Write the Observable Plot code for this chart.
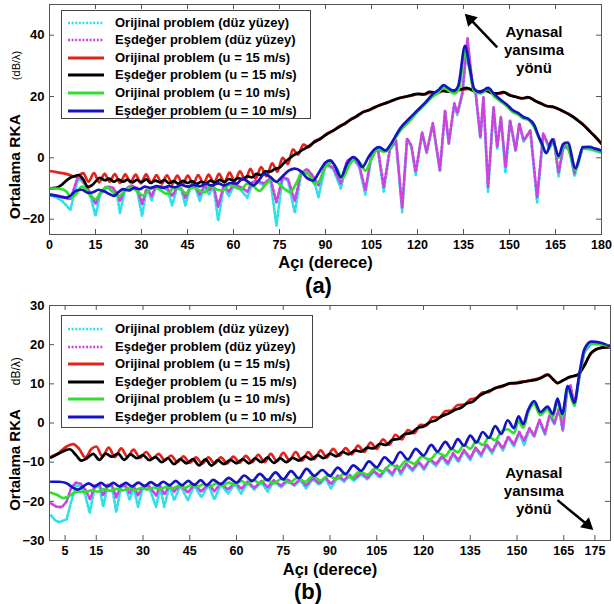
<!DOCTYPE html>
<html><head><meta charset="utf-8">
<script src="https://cdn.jsdelivr.net/npm/d3@7"></script>
<script src="https://cdn.jsdelivr.net/npm/@observablehq/plot@0.6"></script>
<style>
body{margin:0;background:#fff;}
#wrap{position:relative;width:614px;height:604px;overflow:hidden;font-family:"Liberation Sans",Arial,sans-serif;font-weight:bold;color:#000;background:#fff;}
#wrap svg.plot{position:absolute;left:0;}
.abs{position:absolute;white-space:nowrap;line-height:1;}
.leg{position:absolute;border:1px solid #444;background:#fff;}
.row{position:absolute;left:0;height:16px;white-space:nowrap;font-size:13px;}
.row svg{position:absolute;left:5px;top:3px;}
.row span{position:absolute;left:53px;top:0;line-height:16px;}
</style></head><body><div id="wrap"></div>
<script>
// ---------- Series names ----------
const seriesNames = [
  "Orijinal problem (düz yüzey)",
  "Eşdeğer problem (düz yüzey)",
  "Orijinal problem (u = 15 m/s)",
  "Eşdeğer problem (u = 15 m/s)",
  "Orijinal problem (u = 10 m/s)",
  "Eşdeğer problem (u = 10 m/s)"
];
// ---------- Panel (a) data: [angle (deg), RKA (dB/λ)] ----------
const aCyan = [[0,-12.2],[2,-12.8],[4,-14],[5.5,-15.5],[6.8,-17],[8,-12],[9.3,-7],[10.5,-7.5],[12,-9.5],[13.5,-13],[15,-19],[16.5,-12],[18.5,-9.8],[20.5,-10],[22,-12],[23,-18],[24.5,-11],[26.5,-9.4],[28.5,-10.5],[30.2,-19],[31.5,-11],[32.5,-11.5],[33.3,-14],[34.5,-10],[36.5,-9.6],[38.5,-10.5],[40,-15.5],[41.5,-10],[43,-10.5],[44.3,-15.5],[45.8,-10],[47.5,-9.6],[49,-14],[50.5,-9.4],[52,-12],[53.5,-9.4],[55,-20.5],[56.8,-9.4],[58.5,-12.5],[60.2,-8.8],[62,-10],[64.5,-13],[66.2,-8.2],[68,-8],[70,-9],[72,-7],[74,-22],[76,-6.6],[77.8,-7.5],[80,-18],[82,-5.4],[84,-4],[86,-6.5],[87.7,-12.8],[90,-2.2],[92.5,-3.6],[95,-10],[97,-1.4],[99,-0.2],[101,-3],[103,-12],[105,0.6],[107,3.1],[109,-11],[111,2.6],[113,5.3],[115,-17.7],[116.6,6],[118,3.6],[119.4,-5.5],[121.5,7.9],[123,1.5],[125,11],[127.3,-4.5],[129,15],[130.2,4.4],[132,17.4],[133,14],[134.6,20.6],[136.3,38],[138,22.6],[139,20.6],[140.5,6.3],[141.5,19.4],[143,-11],[144.8,16],[146,3],[147.2,13],[148.7,-5],[150.2,12],[152,2],[153.2,11],[154.6,5.3],[156.8,8.6],[159,-14.5],[161,7.6],[163,3],[164.5,5.6],[166,-6],[167.6,3.6],[169.5,2.6],[171.2,-6],[173.8,3],[176,2.8],[178,2.2],[180,1.6]];
const aMagenta = [[0,-12],[2,-12.2],[4,-12.6],[5.5,-13.2],[6.8,-13.5],[8,-10],[9.3,-6],[10.5,-7],[12,-9],[13.5,-12],[15,-15],[16.5,-11.5],[18.5,-9.4],[20.5,-9.6],[22,-11.5],[23,-14],[24.5,-10.5],[26.5,-9],[28.5,-9.8],[30.2,-15],[31.5,-10.5],[32.5,-11],[33.3,-12.5],[34.5,-9.5],[36.5,-9.3],[38.5,-10],[40,-12.5],[41.5,-9.6],[43,-10],[44.3,-13],[45.8,-9.6],[47.5,-9.2],[49,-12],[50.5,-9],[52,-10.5],[53.5,-9],[55,-16],[56.8,-9],[58.5,-11],[60.2,-8.4],[62,-9.4],[64.5,-11],[66.2,-7.8],[68,-7.5],[70,-8.4],[72,-6.5],[74,-14.5],[76,-6.2],[77.8,-7],[80,-14],[82,-5],[84,-3.6],[86,-6],[87.7,-9],[90,-1.8],[92.5,-3.2],[95,-8.4],[97,-1],[99,0.2],[101,-2.5],[103,-10.5],[105,1],[107,3.5],[109,-9.5],[111,3],[113,5.7],[115,-16.4],[116.6,6.4],[118,4],[119.4,-4.7],[121.5,8.3],[123,1.9],[125,11.3],[127.3,-4],[129,15.5],[130.2,4.8],[132,17.8],[133,14.5],[134.6,21],[136.3,39],[138,23],[139,21],[140.5,6.7],[141.5,19.8],[143,-9.5],[144.8,16.5],[146,3.5],[147.2,13.3],[148.7,-3],[150.2,12.3],[152,2.5],[153.2,11.3],[154.6,5.7],[156.8,9],[159,-12.9],[161,8],[163,3.5],[164.5,6],[166,-5],[167.6,4],[169.5,3],[171.2,-5],[173.8,3.5],[176,3.2],[178,2.6],[180,2]];
const aRed = [[0,-4.3],[3,-4.8],[6,-5.4],[8.5,-6.2],[11,-5],[12.7,-7.8],[14.5,-5],[16.2,-8],[18,-5.2],[19.6,-7.8],[21.3,-5.3],[23,-8.2],[24.7,-5.4],[26.4,-8],[28.1,-5.5],[29.8,-8.3],[31.5,-5.4],[33.2,-8.2],[34.9,-5.6],[36.6,-8.4],[38.3,-5.7],[40,-8.5],[41.7,-5.8],[43.4,-8.6],[45.1,-5.8],[46.8,-8.5],[48.5,-5.6],[50.2,-8.4],[51.9,-5.5],[53.6,-8.2],[55.3,-5.2],[57,-8],[58.7,-4.8],[60.4,-7.6],[62.1,-4.4],[63.8,-7.3],[65.5,-3.6],[67.2,-6.8],[69,-3],[70.8,-6],[72.6,-1.8],[74.3,-4.5],[76,0],[77.7,-2],[79.4,2.8],[81,1],[82.8,4.3],[84.5,3.5],[86.5,5.5],[88.5,6.3],[90.5,8],[92.5,8.8],[94.5,10.3],[96.5,11.2],[98.5,12.6],[100.5,13.6],[102.5,15.1],[104.5,15.6],[106.5,16.6],[108.5,17.4],[110.5,18.1],[112.5,18.9],[114.5,19.6],[116.5,20],[118.5,20.4],[120.5,20.8],[122.5,20.7],[124.5,21.4],[126.5,21.2],[128.5,21.8],[130.5,21.6],[132.5,21.9],[134.5,22.2],[136.5,22.5],[138.5,21.9],[140.5,21.4],[142.5,21.8],[144.5,21.1],[146.5,20.9],[148.5,21.3],[150.5,20.3],[152.5,19.8],[154.5,19.4],[156.5,19.6],[158.5,18.5],[160.5,17.7],[162.5,16.8],[164.5,16.5],[166.5,15.7],[168.5,14.7],[170.5,13.6],[172.5,12.1],[174.5,10.5],[176.5,8.4],[178.5,6.4],[180,4.5]];
const aBlack = [[0,-10],[2,-9.8],[4,-8.8],[6,-7],[7.5,-6.2],[9.5,-5.6],[11,-7],[12.5,-9.5],[14,-8.8],[16.5,-6.5],[18,-7.3],[19.5,-6.8],[21,-7.8],[22.5,-7],[24,-7.8],[25.5,-7.1],[27,-8],[28.5,-7.2],[30,-7.9],[31.5,-7],[33,-8.2],[34.5,-7.4],[36,-8],[37.5,-7.2],[39,-8.3],[40.5,-7.6],[42,-8.4],[43.5,-7.5],[45,-8.2],[46.5,-7.6],[48,-8.5],[49.5,-7.8],[51,-8.3],[52.5,-7.4],[54,-8.1],[55.5,-7.2],[57,-7.9],[58.5,-6.9],[60,-7.4],[61.5,-6.6],[63,-7],[64.5,-6],[66,-6.4],[67.5,-5.2],[69,-5.6],[70.5,-4.4],[72,-4.5],[73.5,-3.6],[75,-3.2],[76.5,-1.6],[78,-0.4],[79.5,0.8],[81,1.6],[82.5,2.6],[84,3.4],[86,4.9],[88,6],[90,7.4],[92,8.6],[94,9.8],[96,11],[98,12.4],[100,13.5],[102,14.8],[104,15.5],[106,16.5],[108,17.3],[110,18],[112,18.8],[114,19.5],[116,19.9],[118,20.4],[120,20.9],[122,20.7],[124,21.5],[126,21.2],[128,21.9],[130,21.6],[132,22],[134,22.3],[136,22.8],[138,22],[140,21.5],[142,22],[144,21.2],[146,21],[148,21.4],[150,20.4],[152,19.9],[154,19.4],[156,19.8],[158,18.8],[160,17.8],[162,16.9],[164,16.7],[166,15.9],[168,14.9],[170,13.8],[172,12.4],[174,10.8],[176,8.8],[178,6.8],[180,4.6]];
const aGreen = [[0,-10],[2,-10],[4,-10.2],[5.5,-11],[7,-12.8],[8.5,-12],[10.5,-9.4],[12,-10.5],[13.5,-12.5],[15,-13.5],[16.5,-11.5],[18.5,-9.6],[20.5,-11],[22.5,-12.6],[24.5,-10.8],[26.5,-9.6],[28.5,-10.8],[30.5,-12.3],[32.5,-10.4],[34.5,-9.5],[36.5,-10.8],[38.5,-11.8],[40.5,-9.8],[42.5,-10],[44.5,-11.6],[46.5,-9.6],[48.5,-10.4],[50.5,-11.3],[52.5,-9.2],[54.5,-10.3],[56.5,-10.6],[58.5,-8.8],[60.5,-9.6],[62.5,-10.2],[64.5,-8.4],[66.5,-9.4],[68.5,-10.8],[70.5,-8.6],[72.5,-7.2],[74.5,-8.2],[76.5,-10],[78.5,-11.2],[80.5,-8.2],[82.5,-4.6],[84.5,-5.4],[86.5,-8.4],[88,-7.6],[90,-3],[92,-1.6],[94,-4],[95.5,-6.8],[97.5,-2.8],[99.5,-0.6],[101.5,-1.9],[103,-4.2],[105,-0.4],[107,2.8],[109,2],[110.5,2.6],[112.5,6],[114.5,9],[117,11.5],[120,15],[122,17],[125,20],[127,21.5],[128.5,23],[130,22],[132,21],[133.5,22.5],[135.5,35],[137,28.5],[138.5,21.5],[140.5,21],[143,22.5],[145,20],[147,18.5],[149,17],[151,15],[153,14],[154.5,12.8],[156,12.5],[158,10],[160,5.5],[162,1.5],[164,6],[166,0],[168,5],[170,0.5],[171.5,-4],[174,3],[176,3],[178,2.5],[180,2]];
const aBlue = [[0,-12],[2,-12.3],[4,-12.8],[5.5,-13],[7,-12.2],[8.5,-10.8],[10.5,-10.4],[12.5,-11.4],[14,-11.3],[16,-10.4],[18,-11],[19.5,-11.8],[21,-12.4],[22.5,-11.2],[24,-10.2],[26,-10.6],[27.5,-9.8],[29.5,-10.2],[31,-9.4],[33,-9.8],[35,-9.2],[37,-9.8],[39,-9.2],[41,-9.6],[43,-8.8],[45,-9.4],[47,-8.8],[49,-9.3],[51,-8.5],[53,-9],[55,-8.3],[57,-9],[59,-8.2],[61,-8.4],[63,-6.8],[65,-8],[66.5,-9],[68.5,-7],[70,-5.2],[72,-6.2],[74,-7.8],[76,-6],[78,-4.2],[80,-3.5],[82,-4.4],[84,-6.6],[86,-7.4],[88,-4.5],[90,-1.5],[91.6,-0.8],[93,-2.5],[95,-6.3],[97,-2],[99,0.2],[100.5,-0.8],[102,-3],[104,0.2],[106,2.8],[107.5,3.5],[109.5,2.4],[111,4],[112.5,6.5],[114.5,9.8],[117,12.5],[120,15.5],[122.5,18],[125,20.8],[127,22.3],[128.5,23.7],[130,22.8],[131.8,21.8],[133.3,23.5],[135.5,36.5],[137,29.6],[138.5,22.5],[140.5,21.4],[143,22.8],[145,20.8],[147,19],[149,17.5],[151,15.6],[153,14.5],[154.6,13.3],[156,12.8],[158,10.8],[159.5,7],[160.5,4.8],[162,1.6],[164,6],[166,0.6],[167.5,4.5],[169,5],[171.5,-3.4],[174,3.5],[176,3.6],[178,3],[180,2.4]];
// ---------- Panel (b) data ----------
const bCyan = [[0.5,-23.6],[2,-25],[3.2,-25.3],[5.5,-24.6],[7,-20],[8.5,-16],[10,-16],[11.5,-18.5],[12.9,-23],[14.5,-16.5],[16,-16],[17.2,-21.4],[18.6,-16.2],[20,-16],[21.4,-22.7],[23,-16.2],[24.4,-16.2],[25.7,-19.7],[27,-16.4],[28.4,-21.4],[30,-16.4],[32,-16.5],[34.2,-21.4],[35.5,-16.3],[36.8,-21.4],[38.5,-16],[40,-19.7],[42,-16],[44.4,-19.7],[46.5,-15.9],[48.7,-19],[51,-15.8],[52.9,-19.5],[55,-15.7],[57.3,-18],[59.5,-15.5],[61.5,-18],[63.5,-15.3],[65.7,-17],[68,-15.1],[70,-17.5],[72,-14.9],[74.3,-16.4],[76.5,-14.8],[78.5,-16],[80.5,-14.6],[82.3,-16.7],[84.5,-14.3],[86.5,-15.8],[88.5,-14.1],[90.3,-16.7],[92.5,-13.8],[94.5,-15],[96.2,-13.5],[97.7,-14.8],[100,-13.1],[102,-14.4],[104,-12.5],[106,-14],[108,-11.8],[110,-13.5],[111.5,-11.2],[112.7,-13.3],[114.5,-10.7],[116.5,-12.3],[118.5,-10.2],[120.2,-12],[122,-9.5],[124,-11],[126,-8.7],[127.8,-10.8],[129.5,-8],[131.2,-10],[133,-7.2],[135,-9.5],[136.7,-6.6],[138.5,-8.6],[140.2,-5.7],[142,-7.8],[143.8,-4.9],[145.5,-7],[147.2,-3.7],[149,-6],[150.7,-2.6],[152.3,-5.6],[154,-1.6],[155.5,-3.6],[157.2,0.5],[159,-3],[160.5,1.9],[162,-0.4],[163.5,3.5],[164.7,-2.2],[166,7.7],[167.2,9.3],[168.4,4.2],[169.8,10.7],[171.6,18],[173.8,20.2],[176.9,20],[180,19.3]];
const bMagenta = [[0.5,-20.5],[2,-21.3],[4,-21.5],[5.5,-20],[7,-16.5],[8.5,-15.2],[10,-15.5],[11.5,-17],[13,-19.5],[14.5,-16],[16,-15.6],[17.2,-18.5],[18.6,-15.8],[20,-15.7],[21.4,-19],[23,-15.8],[24.4,-16],[25.7,-17.8],[27,-16],[28.4,-18.5],[30,-16],[32,-16.1],[34.2,-18.5],[35.5,-16],[36.8,-18.3],[38.5,-15.8],[40,-17.5],[42,-15.7],[44.4,-17.8],[46.5,-15.6],[48.7,-17.5],[51,-15.5],[52.9,-17.4],[55,-15.4],[57.3,-17],[59.5,-15.2],[61.5,-16.8],[63.5,-15],[65.7,-16.5],[68,-14.8],[70,-16.4],[72,-14.6],[74.3,-16],[76.5,-14.4],[78.5,-15.8],[80.5,-14.2],[82.3,-16],[84.5,-14],[86.5,-15.4],[88.5,-13.8],[90.3,-15.6],[92.5,-13.4],[94.5,-14.6],[96.2,-13.2],[97.7,-14.2],[100,-12.8],[102,-14],[104,-12.2],[106,-13.5],[108,-11.5],[110,-12.9],[111.5,-10.9],[112.7,-12.6],[114.5,-10.4],[116.5,-11.8],[118.5,-9.9],[120.2,-11.5],[122,-9.2],[124,-10.5],[126,-8.4],[127.8,-10.2],[129.5,-7.7],[131.2,-9.5],[133,-6.9],[135,-9],[136.7,-6.3],[138.5,-8],[140.2,-5.4],[142,-7.3],[143.8,-4.6],[145.5,-6.5],[147.2,-3.4],[149,-5.5],[150.7,-2.3],[152.3,-4.5],[154,-1.3],[155.5,-3.2],[157.2,0.8],[159,-2.6],[160.5,2.2],[162,0],[163.5,3.8],[164.7,-1.8],[166,8],[167.2,9.6],[168.4,4.6],[169.8,11],[171.6,18.3],[173.8,20.5],[176.9,20.3],[180,19.5]];
const bRed = [[0.5,-8.6],[3,-7.6],[5.5,-6],[7.5,-5.4],[9.5,-6.6],[11.5,-8.8],[13.5,-6.6],[15,-6],[17,-8.6],[19,-6.3],[21,-8.7],[23,-6.5],[25,-8.6],[27,-6.8],[29,-8.9],[31,-7.4],[33,-9.1],[35,-7.9],[37,-9.5],[39,-8.3],[41,-10],[43,-8.5],[45,-10.2],[47,-8.8],[49,-10.4],[51,-8.8],[53,-10.4],[55,-8.8],[57,-10.3],[59,-8.6],[61,-10.1],[63,-8.4],[65,-10],[67,-8.1],[69,-10],[71,-7.9],[73,-9.8],[75,-7.6],[77,-9.5],[79,-7.4],[81,-9.6],[83,-7.4],[85,-9.2],[87,-7],[89,-8.8],[91,-6.6],[93,-8.4],[95,-6.4],[97,-8],[99,-5.8],[101,-7.4],[103,-5],[105,-6.6],[107,-4.2],[109,-5.6],[111,-3],[113,-4.2],[115,-1.8],[117,-2.6],[119,-0.5],[121,-0.6],[123,1.5],[125,1.4],[127,3],[129,3.2],[131,4.6],[133,4.7],[135,6],[137,6.4],[139,7.8],[141,7.9],[143,9],[145,9.2],[147,10],[149,10.1],[151,10.5],[153,10.6],[155,11],[157,11.4],[159.9,12.4],[161.5,11.2],[163,10.2],[165,11],[167,11.7],[169.5,12.3],[171.5,14.6],[173.8,17.8],[176.9,19.2],[180,19.4]];
const bBlack = [[0.5,-8.8],[3,-7.8],[5,-7],[6.5,-6.7],[8.5,-8.2],[10.2,-9.6],[12,-9],[14,-7.9],[16,-9.4],[18,-7.8],[20,-8.6],[22,-7.8],[24,-9.4],[26,-8],[28,-9],[30,-8.2],[32,-9.5],[34,-8.7],[36,-10],[38,-9],[40,-10.5],[42,-9.2],[44,-10.3],[46,-9.2],[48,-10.8],[50,-9.3],[52,-10.9],[54,-9.5],[56,-10.5],[58,-9.4],[60,-10.3],[62,-9.2],[64,-10.3],[66,-9],[68,-10],[70,-8.8],[72,-10.2],[74,-9],[76,-10],[78,-8.9],[80,-9.6],[82,-8.5],[84,-9.3],[86,-8.2],[88,-9],[90,-7.8],[92,-8.5],[94,-7.4],[96,-8],[98,-7],[100,-7.3],[102,-6.3],[104,-6.5],[106,-5.3],[108,-5.6],[110,-4.3],[112,-4.1],[114,-2.8],[116,-2.6],[118,-1.3],[120,-0.9],[122,0.2],[124,0.7],[126,1.8],[128,2.4],[130,3.3],[132,3.9],[134,5],[136,5.5],[138,7],[140,7.8],[142,8.5],[144,9.2],[146,9.6],[148,10.2],[150,10.2],[152,10.5],[154,10.8],[156,11],[158,11.6],[159.9,12.3],[161.5,11.2],[163,10.2],[165,11],[167,11.8],[169.5,12.3],[171.5,14.5],[173.8,17.9],[176.9,19.2],[180,19.4]];
const bGreen = [[0.5,-17.8],[2.5,-18.4],[4.5,-19.2],[6,-18.8],[8,-17.8],[9.5,-17.5],[11.5,-17.6],[13.5,-17.2],[15.5,-17.5],[17.5,-16.9],[19.5,-17.3],[21.5,-16.8],[23.5,-17.2],[25.5,-16.7],[27.5,-17.1],[29.5,-16.6],[31.5,-17],[33.5,-16.5],[35.5,-16.9],[37.5,-16.3],[39.5,-16.7],[41.5,-16],[43.5,-16.5],[45.5,-15.8],[47.5,-16.3],[49.5,-15.6],[51.5,-16.2],[53.5,-15.4],[55.5,-16],[57.5,-15.2],[59.5,-15.8],[61.5,-14.8],[63.5,-15.6],[65.5,-14.6],[67.5,-15.4],[69.5,-14.4],[72,-15.4],[74.5,-14.2],[77,-15.3],[79.5,-14],[82,-15],[84.5,-13.6],[87,-14.7],[89.5,-13.4],[92,-14.4],[94.5,-13],[97,-14],[99.5,-12.4],[102,-13.2],[104.5,-11.6],[107,-12.4],[109.5,-10.6],[112,-11.4],[114.5,-9.6],[117,-10.4],[119.5,-8.6],[122,-9.4],[124.5,-7.6],[127,-8.4],[129,-6.6],[131,-7.5],[133,-5.6],[135,-6.6],[137,-4.6],[139,-5.6],[141,-3.6],[143,-4.4],[145,-2.2],[147,-1.6],[149,-2.6],[150.5,0.5],[152,-1.2],[153.5,2.5],[155.5,4.8],[157.5,2],[159.8,3.5],[161.5,1.5],[163,5.5],[164.5,1.5],[166.3,8.8],[168.4,4.5],[170,12],[171.6,18.2],[173.8,20.3],[176.9,20.1],[180,19.4]];
const bBlue = [[0.5,-15],[3,-15],[5.5,-15.4],[7.5,-16.5],[9,-17],[10.5,-16.4],[12.5,-15.4],[14.5,-16.2],[16.5,-15.3],[18.5,-16.2],[20.5,-15.3],[22.5,-16.2],[24.5,-15.3],[26.5,-16.2],[28.5,-15.2],[30.5,-16.1],[32.5,-15.1],[34.5,-16],[36.5,-15],[38.5,-15.9],[40.5,-14.8],[42.5,-15.9],[44.5,-14.8],[46.5,-15.8],[48.5,-14.6],[50.5,-15.9],[52.5,-14.5],[55,-15.6],[57.5,-14],[60,-15.2],[62.5,-13.4],[65,-14.8],[67.5,-13],[70,-14.6],[72.5,-12.6],[75,-14.4],[77.5,-12.3],[80,-14.1],[82.5,-11.7],[85,-13.5],[87.5,-12],[90,-13.5],[92.5,-11.4],[95,-13],[97.5,-10.8],[100,-12.2],[102.5,-9.8],[105,-11.3],[107.5,-8.8],[110,-10.3],[112.5,-7.4],[115,-9.3],[117.5,-6.6],[120,-8.3],[122.5,-5.6],[124.5,-7.3],[127,-4.8],[129,-6.6],[131,-4.1],[133,-5.8],[135,-3.2],[137,-5],[139,-2.3],[141,-3.8],[143,-0.8],[145,-2.8],[147,0.7],[149,-1.3],[150.5,1.7],[152,-0.3],[153.5,3.2],[155.5,5.6],[157.5,2.8],[159.8,4.2],[161.5,2.3],[163,6.2],[164.5,2.3],[166.3,9.4],[168.4,5.2],[170,12.5],[171.6,18.8],[173.8,20.8],[176.9,20.5],[180,19.5]];
// ---------- Axes ----------
const aXTicks = [0,15,30,45,60,75,90,105,120,135,150,165,180];
const aYTicks = [-20,0,20,40];
const bXTicks = [5,15,30,45,60,75,90,105,120,135,150,165,175];
const bYTicks = [-30,-20,-10,0,10,20,30];
// ---------- Annotation (in data coordinates) ----------
const annText = "Aynasal\nyansıma\nyönü";
const aArrow = [{x1:146, y1:36, x2:137.2, y2:45.2, angle:-44}];
const aAnnPos = [{x:158, y:35.4}];
const bArrow = [{x1:163, y1:-19.7, x2:172.6, y2:-26, angle:131}];
const bAnnPos = [{x:155.4, y:-17.1}];

const styles = [
  {color:"#2fdfea", dash:"2.2,2.2", curve:"linear", w:2.7},
  {color:"#cc44dd", dash:"2.2,2.2", curve:"linear", w:2.7},
  {color:"#e3241c", dash:null, curve:"monotone-x", w:2.7},
  {color:"#000000", dash:null, curve:"monotone-x", w:2.7},
  {color:"#2fe02f", dash:null, curve:"monotone-x", w:2.7},
  {color:"#1414c4", dash:null, curve:"monotone-x", w:2.7}
];

const wrap = document.getElementById("wrap");
const FONT = '"Liberation Sans", Arial, sans-serif';

function panel(cfg) {
  const fw = cfg.width - cfg.ml - cfg.mr;
  const fh = cfg.height - cfg.mt - cfg.mb;
  const marks = [];
  cfg.series.forEach((arr, i) => {
    const st = styles[i];
    marks.push(Plot.line(arr, {x: d => d[0], y: d => d[1], stroke: st.color, strokeWidth: st.w,
      strokeDasharray: st.dash || undefined, curve: st.curve, clip: true, strokeLinejoin:"round"}));
  });
  marks.push(Plot.frame({stroke:"#555", strokeWidth:1}));
  // inward ticks
  marks.push(Plot.tickX(cfg.xt, {x: d => d, insetTop: fh - 5, stroke:"#555"}));
  marks.push(Plot.tickX(cfg.xt, {x: d => d, insetBottom: fh - 5, stroke:"#555"}));
  marks.push(Plot.tickY(cfg.yt, {y: d => d, insetRight: fw - 5, stroke:"#555"}));
  marks.push(Plot.tickY(cfg.yt, {y: d => d, insetLeft: fw - 5, stroke:"#555"}));
  marks.push(Plot.axisX(cfg.xt, {anchor:"bottom", tickSize:0, tickPadding:6, label:null, fontSize:12.5, fontWeight:"bold", fill:"#000"}));
  marks.push(Plot.axisY(cfg.yt, {anchor:"left", tickSize:0, tickPadding:5, label:null, fontSize:13, fontWeight:"bold", fill:"#000"}));
  marks.push(Plot.text(["Açı (derece)"], {frameAnchor:"bottom", dy: cfg.xlabDy, fontSize:16.5, fontWeight:"bold", lineAnchor:"middle", fill:"#000"}));
  marks.push(Plot.text([cfg.tag], {frameAnchor:"bottom", dy: cfg.tagDy, dx: cfg.tagDx, fontSize:22, fontWeight:"bold", lineAnchor:"middle", fill:"#000"}));
  marks.push(Plot.link(cfg.arrow, {x1:"x1", y1:"y1", x2:"x2", y2:"y2", stroke:"#000", strokeWidth:2.5}));
  marks.push(Plot.dot(cfg.arrow, {x:"x2", y:"y2", symbol:"triangle", r:5, fill:"#000", stroke:"none", rotate:"angle"}));
  marks.push(Plot.text(cfg.annPos, {x:"x", y:"y", text: () => annText, fontSize:15, fontWeight:"bold", lineHeight:1.2, lineAnchor:"middle", fill:"#000"}));
  const svg = Plot.plot({
    width: cfg.width, height: cfg.height,
    marginLeft: cfg.ml, marginRight: cfg.mr, marginTop: cfg.mt, marginBottom: cfg.mb,
    x: {domain: cfg.xd}, y: {domain: cfg.yd},
    style: {fontFamily: FONT, background:"transparent", overflow:"visible"},
    marks
  });
  svg.classList.add("plot");
  svg.style.top = cfg.top + "px";
  wrap.appendChild(svg);
}

panel({top:0, width:614, height:296, ml:49, mr:13, mt:4, mb:62, xd:[0,180], yd:[-25,50],
  xt:aXTicks, yt:aYTicks, series:[aCyan,aMagenta,aRed,aBlack,aGreen,aBlue],
  xlabDy:28, tagDy:51, tagDx:-7, tag:"(a)", arrow:aArrow, annPos:aAnnPos});
panel({top:296, width:614, height:308, ml:49, mr:4, mt:9, mb:64, xd:[0,180], yd:[-30,30],
  xt:bXTicks, yt:bYTicks, series:[bCyan,bMagenta,bRed,bBlack,bGreen,bBlue],
  xlabDy:29, tagDy:51, tagDx:-22, tag:"(b)", arrow:bArrow, annPos:bAnnPos});

// y labels
function ylab(cx, cy, second, gap, f1, f2) {
  const d = document.createElement("div");
  d.className = "abs";
  d.style.left = cx + "px"; d.style.top = cy + "px";
  d.style.transform = "translate(-50%,-50%) rotate(-90deg)";
  d.innerHTML = '<span style="font-size:' + f1 + 'px;font-weight:bold">Ortalama RKA</span><span style="display:inline-block;width:' + gap + 'px"></span><span style="font-size:' + f2 + 'px;font-weight:normal">' + second + '</span>';
  wrap.appendChild(d);
}
ylab(15, 135, "(dB/λ)", 34, 15.5, 11);
ylab(15, 434, "dB/λ)", 24, 15, 12);

// legends
function legend(left, top, w, h, rowTop) {
  const box = document.createElement("div");
  box.className = "leg";
  box.style.left = left + "px"; box.style.top = top + "px";
  box.style.width = w + "px"; box.style.height = h + "px";
  seriesNames.forEach((name, i) => {
    const st = styles[i];
    const r = document.createElement("div");
    r.className = "row";
    r.style.top = (rowTop + i * 17.6) + "px";
    r.innerHTML = '<svg width="38" height="10"><line x1="1" y1="5" x2="37" y2="5" stroke="' + st.color + '" stroke-width="' + (st.dash ? 2.6 : 2.8) + '"' + (st.dash ? ' stroke-dasharray="2,1.6"' : '') + '/></svg><span>' + name + '</span>';
    box.appendChild(r);
  });
  wrap.appendChild(box);
}
legend(61, 10, 248, 107, 3.5);
legend(61, 315, 250, 111, 5);
</script></body></html>
